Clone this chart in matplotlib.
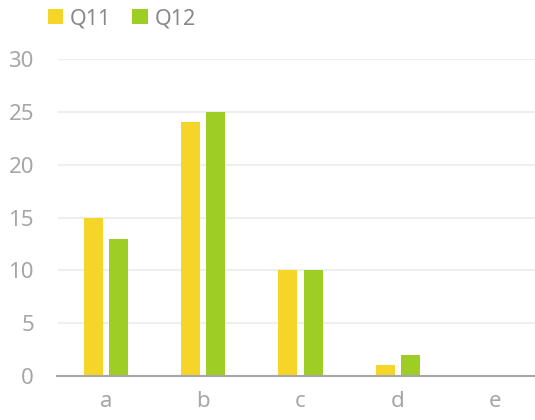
import matplotlib.pyplot as plt
import numpy as np

categories = ["a", "b", "c", "d", "e"]
q11 = [15, 24, 10, 1, 0]
q12 = [13, 25, 10, 2, 0]
series_names = ["Q11", "Q12"]

plt.rcParams["font.family"] = ["Noto Sans", "DejaVu Sans"]
plt.rcParams["font.weight"] = "light"

fig = plt.figure(figsize=(5.35, 4.2), dpi=100)
ax = fig.add_axes([57.5 / 535, 44 / 420, 486 / 535, 317 / 420])

x = np.arange(len(categories))
w = 0.195
ax.bar(x - 0.13, q11, width=w, color="#F5D527", label=series_names[0], zorder=3)
ax.bar(x + 0.13, q12, width=w, color="#9ECD24", label=series_names[1], zorder=3)

ax.set_xlim(-0.5, 4.5)
ax.set_ylim(0, 30)
ax.set_yticks(range(0, 31, 5))
ax.set_xticks(x)
ax.set_xticklabels(categories)

ax.grid(axis="y", color="#EEEEEE", linewidth=1.5, zorder=0)
for s in ["top", "right", "left"]:
    ax.spines[s].set_visible(False)
ax.spines["bottom"].set_color("#A6A6A6")
ax.spines["bottom"].set_linewidth(1.5)
ax.spines["bottom"].set_zorder(4)
ax.tick_params(axis="both", length=0, labelsize=16, labelcolor="#A6A6A6")
ax.tick_params(axis="y", pad=17)
ax.tick_params(axis="x", pad=11)

fig.legend(loc="upper left", bbox_to_anchor=(0.053, 1.027), ncol=2, frameon=False,
           fontsize=15.5, labelcolor="#888888", handlelength=0.72, handleheight=0.72,
           handletextpad=0.3, columnspacing=1.0)

fig.savefig("out.png", dpi=100)
